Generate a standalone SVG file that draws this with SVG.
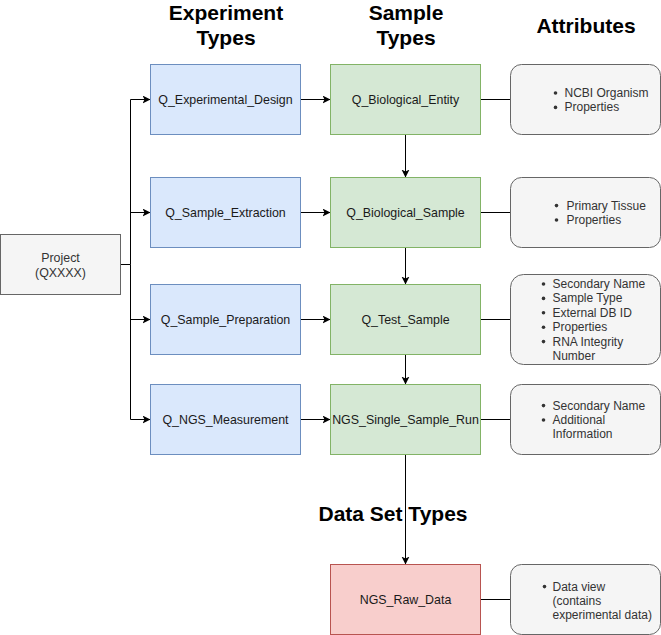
<svg xmlns="http://www.w3.org/2000/svg" width="661" height="635" viewBox="0 0 661 635">
<style>
text{font-family:"Liberation Sans",Arial,sans-serif}
.hdr{font-size:21px;font-weight:bold;fill:#000;text-anchor:middle}
.lbl{font-size:12.4px;fill:#1a1a1a;text-anchor:middle}
.att{font-size:12px;fill:#333}
.blue{fill:#dae8fc;stroke:#6c8ebf;stroke-width:1}
.green{fill:#d5e8d4;stroke:#82b366;stroke-width:1}
.red{fill:#f8cecc;stroke:#b85450;stroke-width:1}
.gray{fill:#f5f5f5;stroke:#666666;stroke-width:1}
.edge{fill:none;stroke:#000;stroke-width:1}
.arr{marker-end:url(#ah)}
.dot{fill:#333}
</style>
<defs>
<marker id="ah" markerWidth="10" markerHeight="10" refX="8" refY="4" orient="auto" markerUnits="userSpaceOnUse">
<path d="M0,0 L8,4 L0,8 L2,4 Z" fill="#000"/>
</marker>
</defs>
<rect width="661" height="635" fill="#fff"/>
<g id="headers">
<text class="hdr" x="226" y="20">Experiment</text>
<text class="hdr" x="226" y="44.5">Types</text>
<text class="hdr" x="406" y="20">Sample</text>
<text class="hdr" x="406" y="44.5">Types</text>
<text class="hdr" x="586" y="33">Attributes</text>
<text class="hdr" x="393" y="521">Data Set Types</text>
</g>
<g id="connectors">
<path class="edge" d="M120.5,264.5 H130.5 V99.5"/>
<path class="edge" d="M130.5,264.5 V419.5"/>
<path class="edge arr" d="M130.5,99.5 H150.5"/>
<path class="edge arr" d="M130.5,212.5 H150.5"/>
<path class="edge arr" d="M130.5,319.5 H150.5"/>
<path class="edge arr" d="M130.5,419.5 H150.5"/>
<path class="edge arr" d="M300.5,99.5 H330.5"/>
<path class="edge arr" d="M300.5,212.5 H330.5"/>
<path class="edge arr" d="M300.5,319.5 H330.5"/>
<path class="edge arr" d="M300.5,419.5 H330.5"/>
<path class="edge arr" d="M405.5,134.5 V177.5"/>
<path class="edge arr" d="M405.5,247.5 V284.5"/>
<path class="edge arr" d="M405.5,354.5 V384.5"/>
<path class="edge arr" d="M405.5,454.5 V564.5"/>
<path class="edge" d="M480.5,99.5 H510.5"/>
<path class="edge" d="M480.5,212.5 H510.5"/>
<path class="edge" d="M480.5,319.5 H510.5"/>
<path class="edge" d="M480.5,419.5 H510.5"/>
<path class="edge" d="M480.5,599.5 H510.5"/>
</g>
<g id="project">
<rect class="gray" x="0.5" y="234.5" width="120" height="60"/>
<text class="lbl" x="60.5" y="262" style="fill:#333">Project</text>
<text class="lbl" x="60.5" y="276.5" style="fill:#333">(QXXXX)</text>
</g>
<g id="q_experimental_design">
<rect class="blue" x="150.5" y="64.5" width="150" height="70"/>
<text class="lbl" x="225.5" y="103.5">Q_Experimental_Design</text>
</g>
<g id="q_sample_extraction">
<rect class="blue" x="150.5" y="177.5" width="150" height="70"/>
<text class="lbl" x="225.5" y="216.5">Q_Sample_Extraction</text>
</g>
<g id="q_sample_preparation">
<rect class="blue" x="150.5" y="284.5" width="150" height="70"/>
<text class="lbl" x="225.5" y="323.5">Q_Sample_Preparation</text>
</g>
<g id="q_ngs_measurement">
<rect class="blue" x="150.5" y="384.5" width="150" height="70"/>
<text class="lbl" x="225.5" y="423.5">Q_NGS_Measurement</text>
</g>
<g id="q_biological_entity">
<rect class="green" x="330.5" y="64.5" width="150" height="70"/>
<text class="lbl" x="405.5" y="103.5">Q_Biological_Entity</text>
</g>
<g id="q_biological_sample">
<rect class="green" x="330.5" y="177.5" width="150" height="70"/>
<text class="lbl" x="405.5" y="216.5">Q_Biological_Sample</text>
</g>
<g id="q_test_sample">
<rect class="green" x="330.5" y="284.5" width="150" height="70"/>
<text class="lbl" x="405.5" y="323.5">Q_Test_Sample</text>
</g>
<g id="ngs_single_sample_run">
<rect class="green" x="330.5" y="384.5" width="150" height="70"/>
<text class="lbl" x="405.5" y="423.5">NGS_Single_Sample_Run</text>
</g>
<g id="ngs_raw_data">
<rect class="red" x="330.5" y="564.5" width="150" height="70"/>
<text class="lbl" x="405.5" y="603.5">NGS_Raw_Data</text>
</g>
<g id="attr_entity">
<rect class="gray" x="510.5" y="64.5" width="150" height="70" rx="11" ry="11"/>
<circle class="dot" cx="555.5" cy="93" r="1.8"/>
<circle class="dot" cx="555.5" cy="107.4" r="1.8"/>
<text class="att" x="564.5" y="97">NCBI Organism</text>
<text class="att" x="564.5" y="111.4">Properties</text>
</g>
<g id="attr_sample">
<rect class="gray" x="510.5" y="177.5" width="150" height="70" rx="11" ry="11"/>
<circle class="dot" cx="556.5" cy="205.6" r="1.8"/>
<circle class="dot" cx="556.5" cy="220" r="1.8"/>
<text class="att" x="566.5" y="209.6">Primary Tissue</text>
<text class="att" x="566.5" y="224">Properties</text>
</g>
<g id="attr_test">
<rect class="gray" x="510.5" y="274.5" width="150" height="90" rx="13" ry="13"/>
<circle class="dot" cx="543.5" cy="284" r="1.8"/>
<circle class="dot" cx="543.5" cy="298.4" r="1.8"/>
<circle class="dot" cx="543.5" cy="312.8" r="1.8"/>
<circle class="dot" cx="543.5" cy="327.2" r="1.8"/>
<circle class="dot" cx="543.5" cy="341.6" r="1.8"/>
<text class="att" x="552.5" y="288">Secondary Name</text>
<text class="att" x="552.5" y="302.4">Sample Type</text>
<text class="att" x="552.5" y="316.8">External DB ID</text>
<text class="att" x="552.5" y="331.2">Properties</text>
<text class="att" x="552.5" y="345.6">RNA Integrity</text>
<text class="att" x="552.5" y="360">Number</text>
</g>
<g id="attr_run">
<rect class="gray" x="510.5" y="384.5" width="150" height="70" rx="11" ry="11"/>
<circle class="dot" cx="543.5" cy="405.6" r="1.8"/>
<circle class="dot" cx="543.5" cy="420" r="1.8"/>
<text class="att" x="552.5" y="409.6">Secondary Name</text>
<text class="att" x="552.5" y="424">Additional</text>
<text class="att" x="552.5" y="438.4">Information</text>
</g>
<g id="attr_raw">
<rect class="gray" x="510.5" y="564.5" width="150" height="70" rx="11" ry="11"/>
<circle class="dot" cx="544.5" cy="586.6" r="1.8"/>
<text class="att" x="552.5" y="590.6">Data view</text>
<text class="att" x="552.5" y="605">(contains</text>
<text class="att" x="552.5" y="619.4">experimental data)</text>
</g>
</svg>
